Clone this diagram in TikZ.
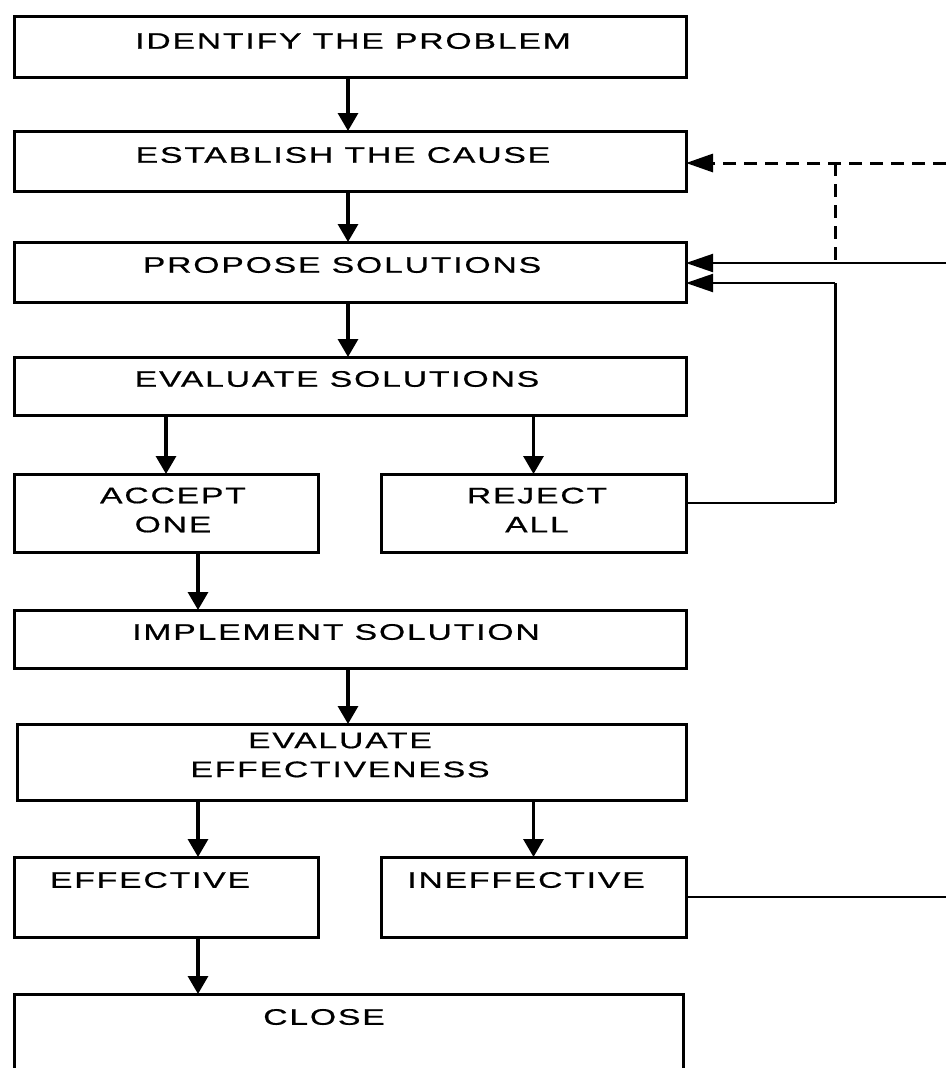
\documentclass[tikz,border=0pt]{standalone}
\usepackage{fontspec}
\setmainfont{Liberation Sans}[FakeStretch=1.5, LetterSpace=8, FakeBold=0.6]
\usetikzlibrary{arrows.meta,calc}
\begin{document}
\begin{tikzpicture}[x=1pt,y=-1pt,
  box/.style={draw, line width=3pt, inner sep=0pt, outer sep=0pt, rectangle},
  lbl/.style={inner sep=0pt, align=center, font=\fontsize{22.5}{29}\selectfont},
  arr/.style={line width=3.2pt, -{Triangle[length=18pt,width=20pt]}},
  fb/.style={line width=2pt, -{Triangle[length=27pt,width=18pt]}},
  fbd/.style={line width=3pt, dash pattern=on 13pt off 8pt, -{Triangle[length=27pt,width=18pt]}}]
\clip (0,0) rectangle (946,1068);
% boxes
\node[box, minimum width=672pt, minimum height=61pt] (b1) at (350,46.5) {};
\node[box, minimum width=672pt, minimum height=60pt] (b2) at (350,161) {};
\node[box, minimum width=672pt, minimum height=60pt] (b3) at (350,272) {};
\node[box, minimum width=672pt, minimum height=58pt] (b4) at (350,386) {};
\node[box, minimum width=304pt, minimum height=78pt] (acc) at (166,513) {};
\node[box, minimum width=305pt, minimum height=78pt] (rej) at (533.5,513) {};
\node[box, minimum width=672pt, minimum height=58pt] (impl) at (350,639) {};
\node[box, minimum width=669pt, minimum height=76pt] (ee) at (351.5,762) {};
\node[box, minimum width=304pt, minimum height=80pt] (ok) at (166,897) {};
\node[box, minimum width=305pt, minimum height=80pt] (inef) at (533.5,897) {};
\node[box, minimum width=669pt, minimum height=116pt] (close) at (348.5,1052) {};
% texts
\node[lbl] (t1) at (353,41) {IDENTIFY THE PROBLEM};
\node[lbl] (t2) at (343,155) {ESTABLISH THE CAUSE};
\node[lbl] (t3) at (342,265) {PROPOSE SOLUTIONS};
\node[lbl] (t4) at (337,379) {EVALUATE SOLUTIONS};
\node[lbl] (t5) at (173,510) {ACCEPT\\ONE};
\node[lbl] (t6) at (537,510) {REJECT\\ALL};
\node[lbl] (t7) at (336,632) {IMPLEMENT SOLUTION};
\node[lbl] (t8) at (340,755) {EVALUATE\\EFFECTIVENESS};
\node[lbl] (t9) at (150,880) {EFFECTIVE};
\node[lbl] (t10) at (526,880) {INEFFECTIVE};
\node[lbl] (t11) at (324,1017) {CLOSE};
% main arrows
\draw[arr] ([xshift=-2pt]b1.south) -- ([xshift=-2pt]b2.north);
\draw[arr] ([xshift=-2pt]b2.south) -- ([xshift=-2pt]b3.north);
\draw[arr] ([xshift=-2pt]b3.south) -- ([xshift=-2pt]b4.north);
\draw[arr] (b4.south -| acc.north) -- (acc.north);
\draw[arr] (b4.south -| rej.north) -- (rej.north);
\draw[arr] ([xshift=32pt]acc.south) -- ([xshift=32pt]acc.south |- impl.north);
\draw[arr] ([xshift=-2pt]impl.south) -- ([xshift=-2pt]impl.south |- ee.north);
\draw[arr] ([xshift=32pt]ok.north |- ee.south) -- ([xshift=32pt]ok.north);
\draw[arr] (ee.south -| inef.north) -- (inef.north);
\draw[arr] ([xshift=32pt]ok.south) -- ([xshift=32pt]ok.south |- close.north);
% feedback
\coordinate (r1) at (946,163);
\coordinate (r2) at (946,263);
\coordinate (j1) at (835,163);
\coordinate (j2) at (835,260);
\coordinate (rj) at (686,503);
\coordinate (k) at (835,283);
\coordinate (r3) at (946,897);
\draw[fbd] (r1) -- (b2.east |- r1);
\draw[line width=3pt, dash pattern=on 13pt off 8pt] (j1) -- (j2);
\draw[fb] (r2) -- (b3.east |- r2);
\draw[line width=2pt] (rj) -- (rj -| k);
\draw[line width=3pt] (rj -| k) -- (k);
\draw[fb] (k) -- (b3.east |- k);
\draw[line width=2pt] (inef.east) -- (r3);
\end{tikzpicture}
\end{document}
